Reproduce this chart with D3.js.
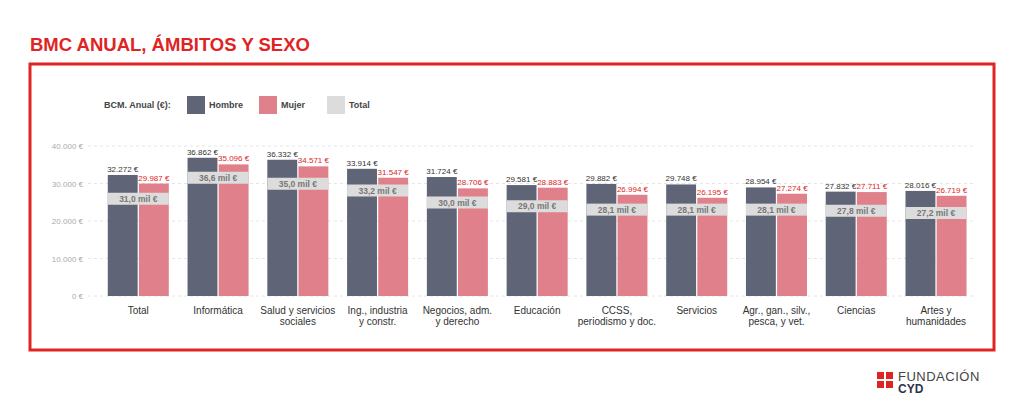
<!DOCTYPE html>
<html><head><meta charset="utf-8">
<script src="https://cdn.jsdelivr.net/npm/d3@7"></script>
<style>body{margin:0;background:#fff;font-family:"Liberation Sans",Arial,sans-serif}</style>
</head><body><svg id="c" width="1024" height="418"></svg>
<script>
const categories=["Total","Informática","Salud y servicios|sociales","Ing., industria|y constr.","Negocios, adm.|y derecho","Educación","CCSS,|periodismo y doc.","Servicios","Agr., gan., silv.,|pesca, y vet.","Ciencias","Artes y|humanidades"];
const hombre=[32272,36862,36332,33914,31724,29581,29882,29748,28954,27832,28016];
const mujer=[29987,35096,34571,31547,28706,28883,26994,26195,27274,27711,26719];
const total=[31.0,36.6,35.0,33.2,30.0,29.0,28.1,28.1,28.1,27.8,27.2];
const yTicks=[0,10000,20000,30000,40000];
const C={h:"#5f6477",m:"#e0808a",t:"#dcdcdc",red:"#e02424"};
const svg=d3.select("#c");
const fmt=d3.formatLocale({decimal:",",thousands:".",grouping:[3],currency:["","€"]});
const f0=fmt.format(",d"), f1=fmt.format(",.1f");
svg.append("text").attr("x",30).attr("y",51).attr("fill",C.red).attr("font-size",18.5).attr("font-weight","bold").text("BMC ANUAL, ÁMBITOS Y SEXO");
svg.append("rect").attr("x",30).attr("y",64).attr("width",964).attr("height",286).attr("fill","none").attr("stroke",C.red).attr("stroke-width",3);
const y=d3.scaleLinear().domain([0,40000]).range([296,146]);
const x=d3.scaleBand().domain(categories).range([98.6,975.7]).paddingInner(0.235).paddingOuter(0.115);
const xs=d3.scaleBand().domain(["h","m"]).range([0,x.bandwidth()]).paddingInner(0.04);
const g=svg.append("g");
yTicks.forEach(t=>{
 g.append("line").attr("x1",88).attr("x2",976).attr("y1",y(t)).attr("y2",y(t)).attr("stroke","#e6e6e6").attr("stroke-dasharray","3,3");
 g.append("text").attr("x",83).attr("y",y(t)+3).attr("text-anchor","end").attr("font-size",8).attr("fill","#aaa").text(f0(t)+" €");
});
categories.forEach((c,i)=>{
 const x0=x(c);
 [["h",hombre[i],C.h,"#333"],["m",mujer[i],C.m,C.red]].forEach(([k,v,col,tc])=>{
  g.append("rect").attr("x",x0+xs(k)).attr("width",xs.bandwidth()).attr("y",y(v)).attr("height",y(0)-y(v)).attr("fill",col);
  g.append("text").attr("x",x0+xs(k)+xs.bandwidth()/2).attr("y",y(v)-3).attr("text-anchor","middle").attr("font-size",8).attr("fill",tc).text(f0(v)+" €");
 });
 const ty=y(total[i]*1000)+13;
 g.append("rect").attr("x",x0).attr("width",x.bandwidth()).attr("y",ty).attr("height",12).attr("fill",C.t);
 g.append("text").attr("x",x0+x.bandwidth()/2).attr("y",ty+9).attr("text-anchor","middle").attr("font-size",8.5).attr("font-weight","bold").attr("fill","#777").text(f1(total[i])+" mil €");
 const lines=c.split("|");
 lines.forEach((l,j)=>g.append("text").attr("x",x0+x.bandwidth()/2).attr("y",314+j*11).attr("text-anchor","middle").attr("font-size",10).attr("fill","#333").text(l));
});
const lg=svg.append("g");
lg.append("text").attr("x",104).attr("y",108).attr("font-size",9).attr("font-weight","bold").attr("fill","#444").text("BCM. Anual (€):");
[["Hombre",C.h,187],["Mujer",C.m,259],["Total",C.t,327]].forEach(([n,col,lx])=>{
 lg.append("rect").attr("x",lx).attr("y",96).attr("width",18).attr("height",18).attr("fill",col);
 lg.append("text").attr("x",lx+22).attr("y",108).attr("font-size",9).attr("font-weight","bold").attr("fill","#444").text(n);
});
[[877,372],[886,372],[877,381],[886,381]].forEach(([a,b])=>svg.append("rect").attr("x",a).attr("y",b).attr("width",7).attr("height",7).attr("fill",C.red));
svg.append("text").attr("x",898).attr("y",381).attr("font-size",13).attr("fill","#444").attr("letter-spacing",0.5).text("FUNDACIÓN");
svg.append("text").attr("x",898).attr("y",393).attr("font-size",12).attr("font-weight","bold").attr("fill","#2d3250").text("CYD");
</script></body></html>
